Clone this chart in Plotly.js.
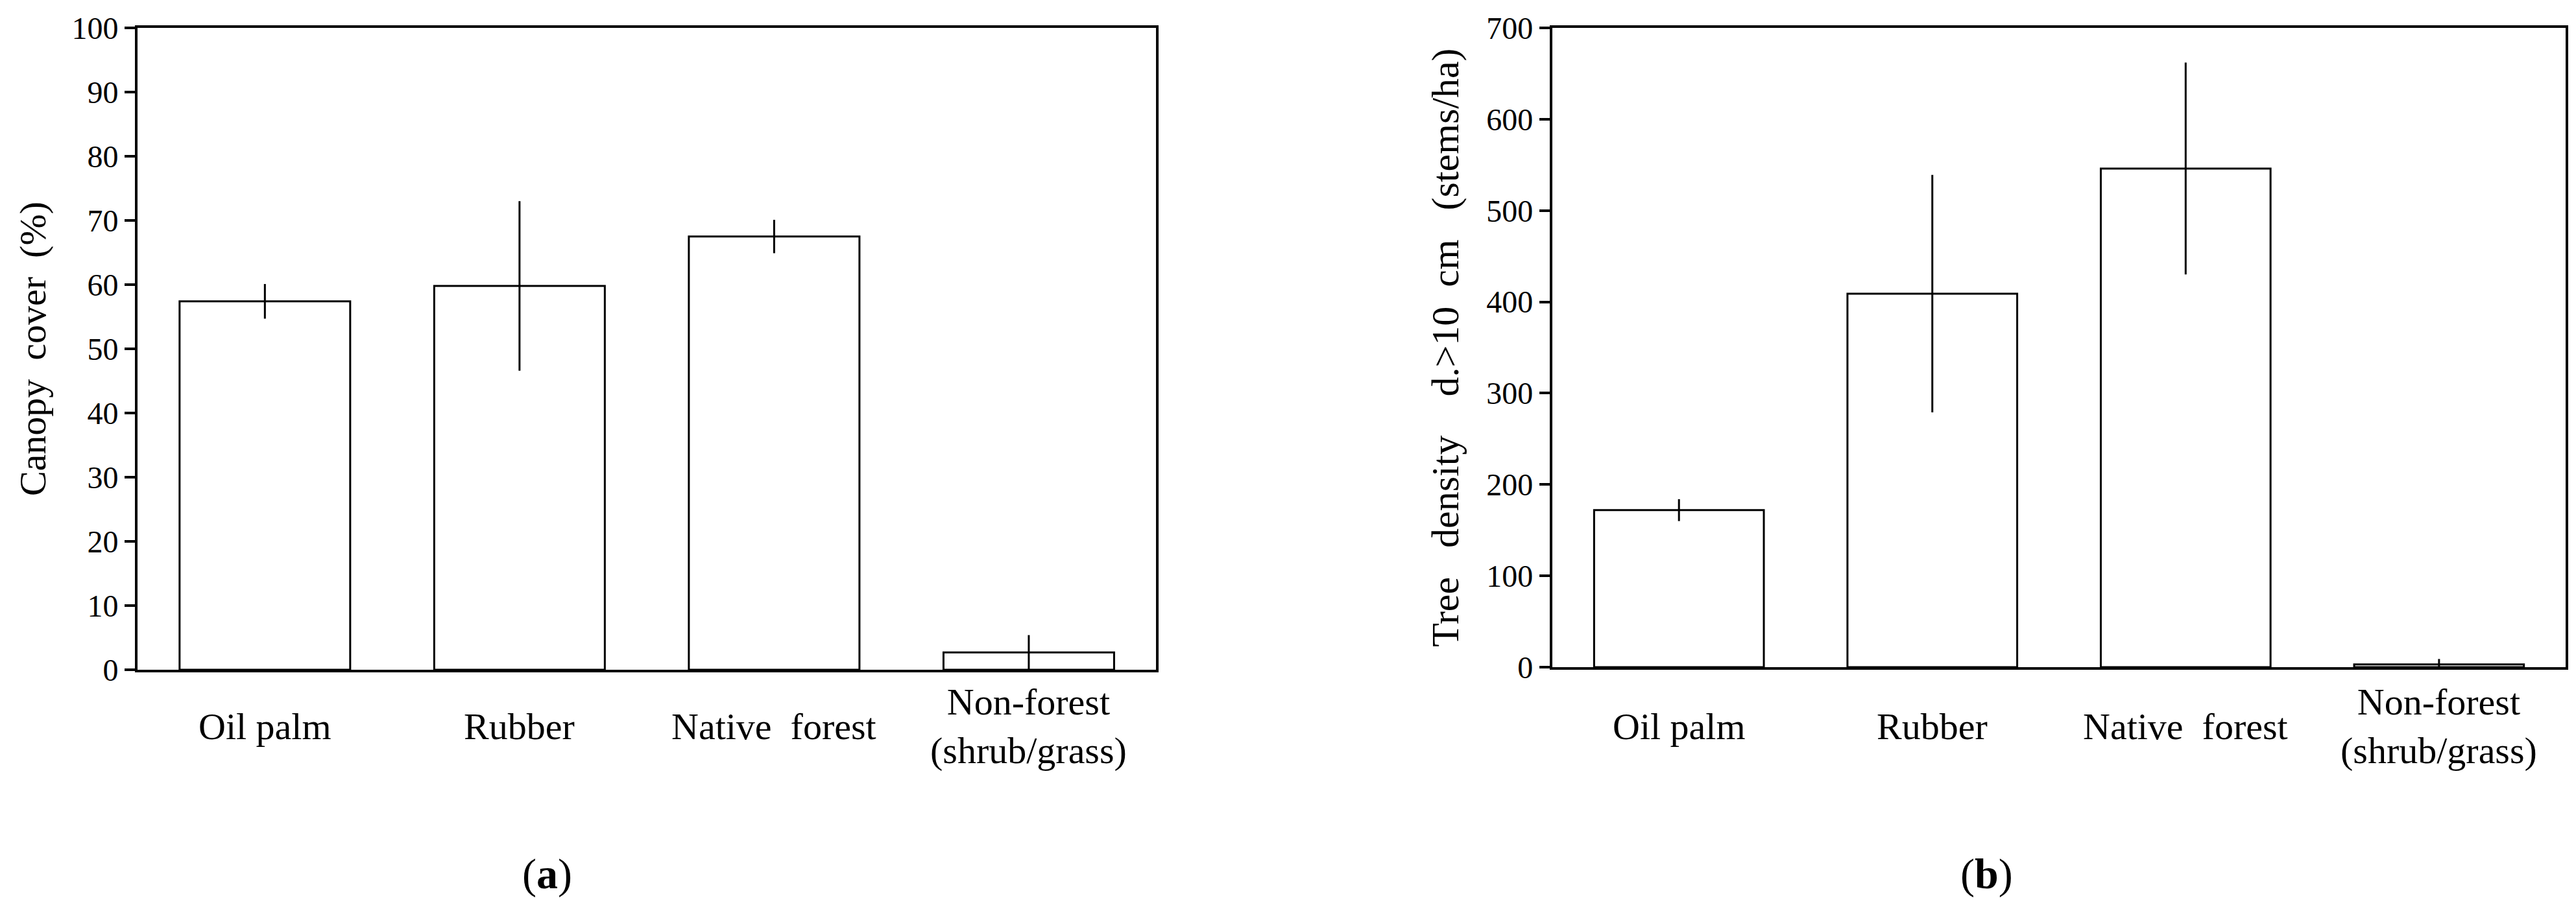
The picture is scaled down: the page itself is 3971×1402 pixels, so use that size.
<!DOCTYPE html>
<html>
<head>
<meta charset="utf-8">
<script src="https://cdn.plot.ly/plotly-3.0.1.min.js"></script>
<style>
  html, body { margin: 0; padding: 0; background: #fff; }
  #plotDiv { width: 3971px; height: 1402px; }
</style>
</head>
<body>
<div id="plotDiv"></div>
<script>
// category labels (shared by both panels)
const categories = ['Oil palm', 'Rubber', 'Native\u00a0\u00a0forest', 'Non-forest<br>(shrub/grass)'];

// (a) canopy cover, %
const canopyMean = [57.4, 59.8, 67.5, 2.7];
const canopyErr = [2.7, 13.2, 2.6, 2.7];
const canopyErrMinus = [2.7, 13.2, 2.6, 2.6];

// (b) tree density, stems/ha
const densityMean = [172, 409, 546, 3];
const densityErr = [12, 130, 116, 6];
const densityErrMinus = [12, 130, 116, 3];

const serif = 'Liberation Serif, Times New Roman, serif';

function barTrace(y, errPlus, errMinus, xa, ya) {
    return {
        type: 'bar',
        x: categories,
        y: y,
        xaxis: xa,
        yaxis: ya,
        marker: { color: '#ffffff', line: { color: '#000000', width: 3 } },
        error_y: {
            type: 'data',
            symmetric: false,
            array: errPlus,
            arrayminus: errMinus,
            color: '#000000',
            thickness: 3,
            width: 0
        },
        showlegend: false,
        hoverinfo: 'skip'
    };
}

const data = [
    barTrace(canopyMean, canopyErr, canopyErrMinus, 'x', 'y'),
    barTrace(densityMean, densityErr, densityErrMinus, 'x2', 'y2')
];

const xBase = {
    type: 'category',
    showticklabels: false,
    ticks: '',
    showline: true,
    linecolor: '#000',
    linewidth: 4,
    mirror: true,
    showgrid: false,
    zeroline: false,
    fixedrange: true
};

const yBase = {
    ticks: 'outside',
    ticklen: 16,
    tickwidth: 4,
    tickcolor: '#000',
    showline: true,
    linecolor: '#000',
    linewidth: 4,
    mirror: true,
    showgrid: false,
    zeroline: false,
    tickfont: { family: serif, size: 48, color: '#000' },
    fixedrange: true
};

// category labels under each panel, centred on the bars
const catLabels = [];
['x', 'x2'].forEach(function (xr) {
    categories.forEach(function (c) {
        catLabels.push({
            text: c,
            x: c,
            xref: xr,
            y: 0.201,
            yref: 'paper',
            yanchor: 'middle',
            xanchor: 'center',
            showarrow: false,
            font: { family: serif, size: 58, color: '#000' }
        });
    });
});

const layout = {
    width: 3971,
    height: 1402,
    margin: { l: 0, r: 0, t: 0, b: 0 },
    paper_bgcolor: '#fff',
    plot_bgcolor: '#fff',
    bargap: 0.33,
    xaxis: Object.assign({}, xBase, { domain: [0.0534, 0.4488], anchor: 'y' }),
    yaxis: Object.assign({}, yBase, {
        domain: [0.2632, 0.9693],
        anchor: 'x',
        range: [0, 100],
        dtick: 10,
        title: { text: 'Canopy\u00a0 cover\u00a0 (%)', font: { family: serif, size: 58, color: '#000' }, standoff: 22 }
    }),
    xaxis2: Object.assign({}, xBase, { domain: [0.6026, 0.9960], anchor: 'y2' }),
    yaxis2: Object.assign({}, yBase, {
        domain: [0.2660, 0.9693],
        anchor: 'x2',
        range: [0, 700],
        dtick: 100,
        title: { text: 'Tree\u00a0\u00a0 density\u00a0\u00a0\u00a0 d.>10\u00a0 cm\u00a0\u00a0 (stems/ha)', font: { family: serif, size: 60, color: '#000' }, standoff: 24 }
    }),
    annotations: catLabels.concat([
        {
            text: '(<b>a</b>)', x: 0.2123, y: 0.0385, xref: 'paper', yref: 'paper',
            xanchor: 'center', yanchor: 'middle', showarrow: false,
            font: { family: serif, size: 66, color: '#000' }
        },
        {
            text: '(<b>b</b>)', x: 0.7713, y: 0.0385, xref: 'paper', yref: 'paper',
            xanchor: 'center', yanchor: 'middle', showarrow: false,
            font: { family: serif, size: 66, color: '#000' }
        }
    ])
};

Plotly.newPlot('plotDiv', data, layout, { staticPlot: true, displayModeBar: false });
</script>
</body>
</html>
